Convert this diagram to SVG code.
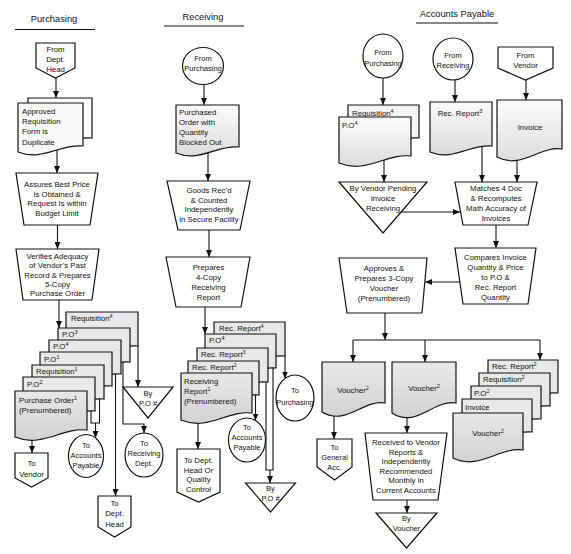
<svg xmlns="http://www.w3.org/2000/svg" width="571" height="554" viewBox="0 0 571 554">
<defs>
<style>
.t{font-family:"Liberation Sans",Arial,sans-serif;font-size:7.8px;fill:#111}
.c{text-anchor:middle}
.h{font-size:9.3px}
.cs{font-size:7.5px}
.sh{fill:#fff;stroke:#111;stroke-width:1.2}
.doc{fill:url(#g1);stroke:#111;stroke-width:1.2}
.bk{fill:#e8e8e8;stroke:#111;stroke-width:1.2}
.fr{fill:url(#g2);stroke:#111;stroke-width:1.2}
.ln{fill:none;stroke:#111;stroke-width:1.1}
.ar{fill:none;stroke:#111;stroke-width:1.1;marker-end:url(#ah)}
</style>
<linearGradient id="g1" x1="0" y1="0" x2="0" y2="1"><stop offset="0" stop-color="#fbfbfb"/><stop offset="1" stop-color="#dcdcdc"/></linearGradient>
<linearGradient id="g2" x1="0" y1="0" x2="0" y2="1"><stop offset="0" stop-color="#e8e8e8"/><stop offset="1" stop-color="#d2d2d2"/></linearGradient>
<marker id="ah" viewBox="0 0 7 6" refX="7" refY="3" markerWidth="7" markerHeight="6" markerUnits="userSpaceOnUse" orient="auto"><path d="M0,0 L7,3 L0,6 Z" fill="#111"/></marker>
</defs>
<rect width="571" height="554" fill="#fff"/>

<g id="headers">
<text class="t h c" x="54" y="21.5">Purchasing</text>
<path class="ln" d="M15,29.5 H95" stroke-width="1.3"/>
<text class="t h c" x="203" y="20">Receiving</text>
<path class="ln" d="M164,26 H244" stroke-width="1.3"/>
<text class="t h c" x="457" y="16.5">Accounts Payable</text>
<path class="ln" d="M416,23 H498" stroke-width="1.3"/>
</g>

<g id="connectors">
<path class="ar" d="M56,78 V98"/>
<path class="ar" d="M57,148 V173"/>
<path class="ar" d="M57.5,225 V249"/>
<path class="ar" d="M59,300 V328"/>
<path class="ar" d="M32,436 V453"/>
<path class="ln" d="M91,411 V423 H99.5 V399"/>
<path class="ar" d="M95.5,423 V438"/>
<path class="ar" d="M115.5,374 V496"/>
<path class="ar" d="M123,362 V424 H144 V433"/>
<path class="ar" d="M138,346 V387"/>
<path class="ar" d="M204,85 V105"/>
<path class="ar" d="M208,150 V181"/>
<path class="ar" d="M209,230 V257"/>
<path class="ar" d="M205,307 V334"/>
<path class="ar" d="M198,419 V449"/>
<path class="ar" d="M255.5,395 V420.5"/>
<path class="ln" d="M266,382 V470 H273 V368"/>
<path class="ar" d="M270,470 V483"/>
<path class="ar" d="M285,356 V378.5"/>
<path class="ar" d="M383,78 V105"/>
<path class="ar" d="M384,160 V182"/>
<path class="ar" d="M455,80 V102"/>
<path class="ar" d="M526,80 V100"/>
<path class="ar" d="M482,146 V182"/>
<path class="ar" d="M517,152 V182"/>
<path class="ar" d="M401,212 H460"/>
<path class="ar" d="M496,225 V248"/>
<path class="ar" d="M460,282 H425"/>
<path class="ar" d="M385,313 V340"/>
<path class="ln" d="M353,340 H540"/>
<path class="ar" d="M353,340 V362"/>
<path class="ar" d="M425,340 V362"/>
<path class="ar" d="M540,340 V360"/>
<path class="ar" d="M334,410 V439"/>
<path class="ar" d="M407,412 V433"/>
<path class="ar" d="M407,500 V513"/>
</g>

<!-- Purchasing -->
<g id="p-from-dept-head">
<path class="sh" d="M36,43 H75 V68 L55.5,78 L36,68 Z"/>
<text class="t c" x="55.5" y="51.5">From</text>
<text class="t c" x="55.5" y="62">Dept.</text>
<text class="t c" x="55.5" y="72">Head</text>
</g>
<g id="p-approved-req">
<path class="sh" d="M28,98 H92 V138 C69.6,136 52.3,151 28,143 Z"/>
<path class="doc" d="M18,103 H83 V146 C60.3,143.6 42.7,161.6 18,152 Z" style="fill:#f8f8f8"/>
<text class="t" x="22" y="113.5" font-size="8.4">Approved</text>
<text class="t" x="22" y="124" font-size="8.4">Requisition</text>
<text class="t" x="22" y="134" font-size="8.4">Form is</text>
<text class="t" x="22" y="144.5" font-size="8.4">Duplicate</text>
</g>
<g id="p-assures">
<path class="sh" d="M16,173 H98 L90,225 H24 Z"/>
<text class="t c" x="57" y="187">Assures Best Price</text>
<text class="t c" x="57" y="196.5">Is Obtained &amp;</text>
<text class="t c" x="57" y="206">Request Is within</text>
<text class="t c" x="57" y="215.5">Budget Limit</text>
</g>
<g id="p-verifies">
<path class="sh" d="M16,249 H99 L92,300 H23 Z"/>
<text class="t c" x="57.5" y="259">Verifies Adequacy</text>
<text class="t c" x="57.5" y="268.3">of Vendor’s Past</text>
<text class="t c" x="57.5" y="277.6">Record &amp; Prepares</text>
<text class="t c" x="57.5" y="286.9">5-Copy</text>
<text class="t c" x="57.5" y="296.2">Purchase Order</text>
</g>
<g id="p-stack">
<path class="bk" d="M66,312 H138 V346 C112.8,343.6 93.4,361.6 66,352 Z"/>
<text class="t" x="71" y="321">Requisition<tspan dy="-3" font-size="5.5">4</tspan></text>
<path class="bk" d="M58,328 H130 V362 C104.8,359.6 85.4,377.6 58,368 Z"/>
<text class="t" x="62" y="337">P.O<tspan dy="-3" font-size="5.5">3</tspan></text>
<path class="bk" d="M49,340 H121 V374 C95.8,371.6 76.4,389.6 49,380 Z"/>
<text class="t" x="53" y="349">P.O<tspan dy="-3" font-size="5.5">4</tspan></text>
<path class="bk" d="M40,352 H112 V386 C86.8,383.6 67.4,401.6 40,392 Z"/>
<text class="t" x="44" y="361.5">P.O<tspan dy="-3" font-size="5.5">1</tspan></text>
<path class="bk" d="M32,365 H104 V399 C78.8,396.6 59.4,414.6 32,405 Z"/>
<text class="t" x="36" y="374">Requisition<tspan dy="-3" font-size="5.5">1</tspan></text>
<path class="bk" d="M23,377 H95 V411 C69.8,408.6 50.4,426.6 23,417 Z"/>
<text class="t" x="27" y="386.5">P.O<tspan dy="-3" font-size="5.5">2</tspan></text>
<path class="fr" d="M15,391 H87 V430 C61.8,427.2 42.4,448.2 15,437 Z"/>
<text class="t" x="19" y="403" font-size="8.4">Purchase Order<tspan dy="-3" font-size="5.5">1</tspan></text>
<text class="t" x="19" y="413" font-size="8.4">(Prenumbered)</text>
</g>
<g id="p-to-vendor">
<path class="sh" d="M15,453 H48 V478 L31.5,487 L15,478 Z"/>
<text class="t c" x="31.5" y="466">To</text>
<text class="t c" x="31.5" y="477">Vendor</text>
</g>
<g id="p-to-ap">
<ellipse class="sh" cx="86" cy="456" rx="17.5" ry="21.5"/>
<text class="t c cs" x="86" y="448">To</text>
<text class="t c cs" x="86" y="458">Accounts</text>
<text class="t c cs" x="86" y="468">Payable</text>
</g>
<g id="p-to-receiving">
<ellipse class="sh" cx="144" cy="455" rx="19" ry="22"/>
<text class="t c cs" x="144" y="446">To</text>
<text class="t c cs" x="144" y="456">Receiving</text>
<text class="t c cs" x="144" y="466">Dept.</text>
</g>
<g id="p-by-po">
<path class="sh" d="M123,387 H173 L148,418 Z"/>
<text class="t c cs" x="148" y="396">By</text>
<text class="t c cs" x="148" y="406">P.O #</text>
</g>
<g id="p-to-dept-head">
<path class="sh" d="M98,496 H131 V527 L114.5,537 L98,527 Z"/>
<text class="t c" x="114.5" y="506">To</text>
<text class="t c" x="114.5" y="516">Dept.</text>
<text class="t c" x="114.5" y="526.5">Head</text>
</g>

<!-- Receiving -->
<g id="r-from-purchasing">
<ellipse class="sh" cx="203" cy="66" rx="20.5" ry="18.5"/>
<text class="t c cs" x="203" y="61">From</text>
<text class="t c cs" x="203" y="71">Purchasing</text>
</g>
<g id="r-po-blocked">
<path class="doc" d="M176,105 H239 V147 C216.9,144.6 199.9,162.6 176,153 Z"/>
<text class="t" x="179" y="115">Purchased</text>
<text class="t" x="179" y="125">Order with</text>
<text class="t" x="179" y="135">Quantity</text>
<text class="t" x="179" y="145">Blocked Out</text>
</g>
<g id="r-goods">
<path class="sh" d="M167,181 H250 L240,230 H178 Z"/>
<text class="t c" x="209" y="193">Goods Rec’d</text>
<text class="t c" x="209" y="202.5">&amp; Counted</text>
<text class="t c" x="209" y="212">Independently</text>
<text class="t c" x="209" y="221.5">in Secure Facility</text>
</g>
<g id="r-prepares">
<path class="sh" d="M166,257 H250 L241,307 H176 Z"/>
<text class="t c" x="208.5" y="270">Prepares</text>
<text class="t c" x="208.5" y="280">4-Copy</text>
<text class="t c" x="208.5" y="290">Receiving</text>
<text class="t c" x="208.5" y="300">Report</text>
</g>
<g id="r-stack">
<path class="bk" d="M214,322 H285 V356 C260.2,353.6 241,371.6 214,362 Z"/>
<text class="t" x="219" y="331">Rec. Report<tspan dy="-3" font-size="5.5">4</tspan></text>
<path class="bk" d="M205,334 H276 V368 C251.2,365.6 232,383.6 205,374 Z"/>
<text class="t" x="209" y="343">P.O<tspan dy="-3" font-size="5.5">4</tspan></text>
<path class="bk" d="M197,348 H268 V382 C243.2,379.6 224,397.6 197,388 Z"/>
<text class="t" x="201" y="357">Rec. Report<tspan dy="-3" font-size="5.5">3</tspan></text>
<path class="bk" d="M188,361 H259 V395 C234.2,392.6 215,410.6 188,401 Z"/>
<text class="t" x="192" y="370">Rec. Report<tspan dy="-3" font-size="5.5">2</tspan></text>
<path class="fr" d="M181,373 H252 V413 C227.2,410.2 208,431.2 181,420 Z"/>
<text class="t" x="184" y="384" font-size="8.4">Receiving</text>
<text class="t" x="184" y="394" font-size="8.4">Report<tspan dy="-3" font-size="5.5">1</tspan></text>
<text class="t" x="184" y="404" font-size="8.4">(Prenumbered)</text>
</g>
<g id="r-to-dept-head-qc">
<path class="sh" d="M177,449 H220 V492 L198.5,502 L177,492 Z"/>
<text class="t c" x="198.5" y="463">To Dept.</text>
<text class="t c" x="198.5" y="472.5">Head Or</text>
<text class="t c" x="198.5" y="482">Quality</text>
<text class="t c" x="198.5" y="491.5">Control</text>
</g>
<g id="r-to-ap">
<ellipse class="sh" cx="247" cy="440" rx="18.5" ry="22"/>
<text class="t c cs" x="247" y="430">To</text>
<text class="t c cs" x="247" y="440">Accounts</text>
<text class="t c cs" x="247" y="450">Payable</text>
</g>
<g id="r-to-purchasing">
<ellipse class="sh" cx="295" cy="398" rx="19" ry="23"/>
<text class="t c cs" x="295" y="393">To</text>
<text class="t c cs" x="295" y="405">Purchasing</text>
</g>
<g id="r-by-po">
<path class="sh" d="M245.5,483 H295.5 L270.5,512 Z"/>
<text class="t c cs" x="270.5" y="491">By</text>
<text class="t c cs" x="270.5" y="501">P.O #</text>
</g>

<!-- Accounts Payable -->
<g id="a-from-purchasing">
<ellipse class="sh" cx="383" cy="56" rx="20" ry="22"/>
<text class="t c cs" x="383" y="55">From</text>
<text class="t c cs" x="383" y="66">Purchasing</text>
</g>
<g id="a-req-po">
<path class="sh" d="M348,105 H419 V138 C394.2,136 375,151 348,143 Z" style="fill:#f4f4f4"/>
<text class="t" x="352" y="116">Requisition<tspan dy="-3" font-size="5.5">4</tspan></text>
<path class="doc" d="M339,117 H411 V156 C385.8,153.2 366.4,174.2 339,163 Z"/>
<text class="t" x="342" y="128">P.O<tspan dy="-3" font-size="5.5">4</tspan></text>
</g>
<g id="a-from-receiving">
<ellipse class="sh" cx="453" cy="59" rx="20" ry="21"/>
<text class="t c cs" x="453" y="58">From</text>
<text class="t c cs" x="453" y="68">Receiving</text>
</g>
<g id="a-rec-report3">
<path class="doc" d="M430,102 H492 V146 C470.3,143.6 453.6,161.6 430,152 Z"/>
<text class="t c" x="460" y="116">Rec. Report<tspan dy="-3" font-size="5.5">3</tspan></text>
</g>
<g id="a-from-vendor">
<path class="sh" d="M498,47 H553 V68 L525.5,80 L498,68 Z"/>
<text class="t c" x="525.5" y="58">From</text>
<text class="t c" x="525.5" y="68">Vendor</text>
</g>
<g id="a-invoice">
<path class="doc" d="M497,100 H562 V149 C539.3,145.8 521.7,169.8 497,157 Z"/>
<text class="t c" x="530" y="130">Invoice</text>
</g>
<g id="a-by-vendor">
<path class="sh" d="M339,182 H427 L383,233 Z"/>
<text class="t c" x="383" y="191">By Vendor Pending</text>
<text class="t c" x="383" y="201">Invoice</text>
<text class="t c" x="383" y="211">Receiving</text>
</g>
<g id="a-matches">
<path class="sh" d="M455,182 H537 L528,225 H463 Z"/>
<text class="t c" x="496" y="191">Matches 4 Doc</text>
<text class="t c" x="496" y="201">&amp; Recomputes</text>
<text class="t c" x="496" y="211">Math Accuracy of</text>
<text class="t c" x="496" y="221">Invoices</text>
</g>
<g id="a-compares">
<path class="sh" d="M455,248 H536 L528,304 H463 Z"/>
<text class="t c" x="495.5" y="260">Compares Invoice</text>
<text class="t c" x="495.5" y="270">Quantity &amp; Price</text>
<text class="t c" x="495.5" y="280">to P.O &amp;</text>
<text class="t c" x="495.5" y="290">Rec. Report</text>
<text class="t c" x="495.5" y="300">Quantity</text>
</g>
<g id="a-approves">
<path class="sh" d="M339,258 H427 L422,313 H347 Z"/>
<text class="t c" x="384" y="271">Approves &amp;</text>
<text class="t c" x="384" y="281">Prepares 3-Copy</text>
<text class="t c" x="384" y="291">Voucher</text>
<text class="t c" x="384" y="301">(Prenumbered)</text>
</g>
<g id="a-voucher-1">
<path class="fr" d="M322,362 H385 V403 C363,399.4 345.9,426.4 322,412 Z"/>
<text class="t c" x="353" y="393">Voucher<tspan dy="-3" font-size="5.5">2</tspan></text>
</g>
<g id="a-to-general">
<path class="sh" d="M317,439 H352 V467 L334.5,480 L317,467 Z"/>
<text class="t c cs" x="334.5" y="450">To</text>
<text class="t c cs" x="334.5" y="460">General</text>
<text class="t c cs" x="334.5" y="470">Acc.</text>
</g>
<g id="a-voucher-2">
<path class="fr" d="M392,362 H456 V403 C433.6,399 416.3,429 392,413 Z"/>
<text class="t c" x="424" y="391">Voucher<tspan dy="-3" font-size="5.5">2</tspan></text>
</g>
<g id="a-received">
<path class="sh" d="M365,433 H447 L438,500 H373 Z"/>
<text class="t c" x="406" y="445">Received to Vendor</text>
<text class="t c" x="406" y="454.6">Reports &amp;</text>
<text class="t c" x="406" y="464.2">Independently</text>
<text class="t c" x="406" y="473.8">Recommended</text>
<text class="t c" x="406" y="483.4">Monthly in</text>
<text class="t c" x="406" y="493">Current Accounts</text>
</g>
<g id="a-by-voucher">
<path class="sh" d="M376,513 H437 L406.5,548 Z"/>
<text class="t c cs" x="406.5" y="521">By</text>
<text class="t c cs" x="406.5" y="531">Voucher</text>
</g>
<g id="a-stack">
<path class="bk" d="M488,360 H558 V393 C533.5,391 514.6,406 488,398 Z"/>
<text class="t" x="492" y="369">Rec. Report<tspan dy="-3" font-size="5.5">2</tspan></text>
<path class="bk" d="M479,373 H550 V406 C525.2,404 506,419 479,411 Z"/>
<text class="t" x="483" y="382">Requisition<tspan dy="-3" font-size="5.5">2</tspan></text>
<path class="bk" d="M471,386 H541 V419 C516.5,417 497.6,432 471,424 Z"/>
<text class="t" x="474" y="395.5">P.O<tspan dy="-3" font-size="5.5">2</tspan></text>
<path class="bk" d="M462,399 H532 V432 C507.5,430 488.6,445 462,437 Z"/>
<text class="t" x="465" y="409.5">Invoice</text>
<path class="fr" d="M453,413 H523 V450 C498.5,446.8 479.6,470.8 453,458 Z"/>
<text class="t c" x="488" y="436">Voucher<tspan dy="-3" font-size="5.5">2</tspan></text>
</g>
</svg>
